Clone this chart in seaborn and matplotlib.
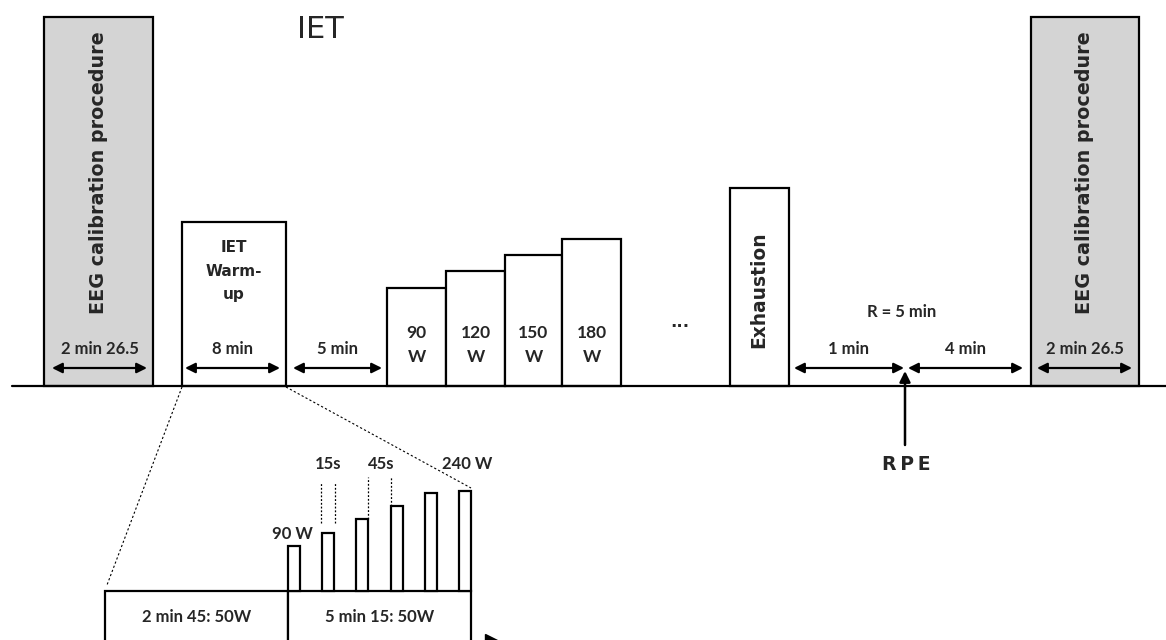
import numpy as np
import pandas as pd
import seaborn as sns
import matplotlib.pyplot as plt

# Protocol diagram: all values in pixel units of the original figure (y up from bottom)
BASE = 254

# main blocks along the time line
blocks = ['EEG_L', 'Warm-up', '90 W', '120 W', '150 W', '180 W', 'Exhaustion', 'EEG_R']
block_left = [44, 182, 387, 446, 505, 562, 730, 1031]
block_width = [109, 104, 59, 59, 57, 59, 59, 108]
block_height = [369, 164, 98, 115, 131, 147, 198, 369]
block_fill = ['#d4d4d4', 'white', 'white', 'white', 'white', 'white', 'white', '#d4d4d4']

# stage labels in the step blocks
stage_watts = ['90', '120', '150', '180']

# duration arrows
dur_start = [52, 185, 293, 794, 908, 1037]
dur_end = [147, 280, 382, 904, 1023, 1132]
dur_labels = ['2 min 26.5', '8 min', '5 min', '1 min', '4 min', '2 min 26.5']

# warm-up detail (bottom inset)
inset_left = [105, 288]
inset_width = [183, 183]
inset_labels = ['2 min 45: 50W', '5 min 15: 50W']
spike_left = [288, 322, 356, 391, 425, 459]
spike_height = [45, 58, 72, 85, 98, 100]

sns.set_theme(style='white')
plt.rcParams['font.family'] = ['DejaVu Sans']

fig = plt.figure(figsize=(11.66, 6.4), dpi=100)
ax = fig.add_axes([0, 0, 1, 1])
ax.set_xlim(0, 1166)
ax.set_ylim(0, 640)
ax.axis('off')

lab = dict(family='Lato', fontweight='bold', ha='center', va='center')

# main blocks
ax.bar(block_left, block_height, width=block_width, bottom=BASE, align='edge',
       color=block_fill, edgecolor='black', linewidth=1.6, zorder=2)
ax.plot([12, 1166], [BASE, BASE], color='black', lw=1.6, zorder=3)

ax.text(320, 610, 'IET', fontsize=22, ha='center', va='center')

for cx in [99, 1085]:
    ax.text(cx, 467, 'EEG calibration procedure', rotation=90, fontsize=13.8,
            fontweight='bold', ha='center', va='center')
ax.text(759, 350, 'Exhaustion', rotation=90, fontsize=13.4,
        fontweight='bold', ha='center', va='center')

for ypx, s in zip([247, 271, 295], ['IET', 'Warm-', 'up']):
    ax.text(234, 640 - ypx, s, fontsize=11, fontweight='bold', ha='center', va='center')

for i, w in enumerate(stage_watts):
    cx = block_left[2 + i] + block_width[2 + i] / 2
    ax.text(cx, 307, w, fontsize=12.5, **lab)
    ax.text(cx, 283, 'W', fontsize=12.5, **lab)

ax.text(680, 318, '...', fontsize=12, fontweight='bold', ha='center', va='center')

for x0, x1, s in zip(dur_start, dur_end, dur_labels):
    ax.annotate('', xy=(x1, 272), xytext=(x0, 272),
                arrowprops=dict(arrowstyle='<|-|>', color='black', lw=1.6,
                                mutation_scale=15, shrinkA=0, shrinkB=0))
    ax.text((x0 + x1) / 2, 291, s, fontsize=12, **lab)

ax.text(902, 328, 'R = 5 min', fontsize=12, **lab)

# RPE marker
ax.annotate('', xy=(905, 269), xytext=(905, 195),
            arrowprops=dict(arrowstyle='-|>', color='black', lw=1.8,
                            mutation_scale=16, shrinkA=0, shrinkB=0))
ax.text(906, 176, 'R\u2009P\u2009E', fontsize=13.5, fontweight='bold', ha='center', va='center')

# zoom lines to the warm-up detail
ax.plot([182, 107], [BASE - 1, 55], ls=(0, (2, 2)), color='black', lw=0.8)
ax.plot([286, 471], [BASE - 1, 152], ls=(0, (2, 2)), color='black', lw=0.8)

# inset
ax.bar(inset_left, 80, width=inset_width, bottom=-31, align='edge',
       color='white', edgecolor='black', linewidth=1.6, zorder=2)
for l, w, s in zip(inset_left, inset_width, inset_labels):
    ax.text(l + w / 2, 23, s, fontsize=12, **lab)

ax.bar(spike_left, spike_height, width=11.5, bottom=49, align='edge',
       color='white', edgecolor='black', linewidth=1.6, zorder=2)

ax.text(292, 106, '90 W', fontsize=12, **lab)
ax.text(328, 176, '15s', fontsize=12, **lab)
ax.text(381, 176, '45s', fontsize=12, **lab)
ax.text(467, 176, '240 W', fontsize=12, **lab)

dot = dict(ls=(0, (1.5, 1.5)), color='black', lw=0.9)
ax.plot([321, 321], [117, 158], **dot)
ax.plot([335, 335], [117, 158], **dot)
ax.plot([368, 368], [121, 163], **dot)
ax.plot([391, 391], [134, 163], **dot)

ax.plot([491], [0], marker='>', color='black', markersize=9, clip_on=True)

fig.savefig('out.png', dpi=100, facecolor='white')
